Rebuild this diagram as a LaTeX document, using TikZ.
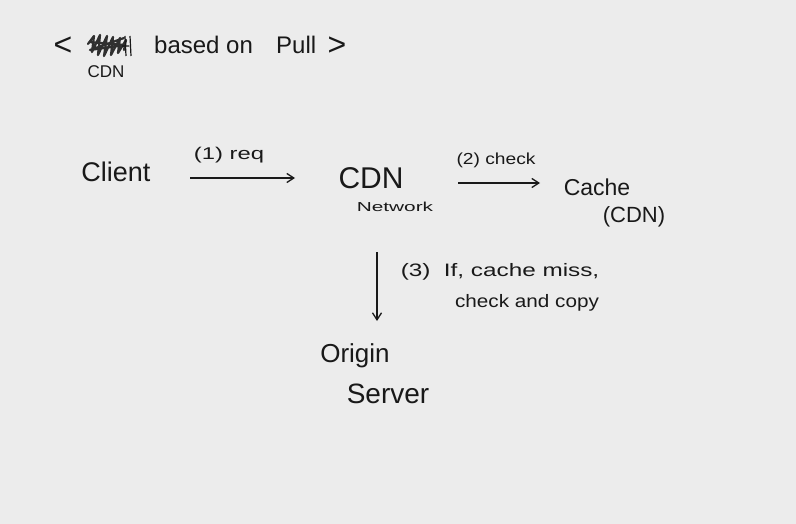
\documentclass[tikz,border=0pt]{standalone}
\usepackage{fontspec}
\setmainfont{Liberation Sans}
\usetikzlibrary{arrows.meta}
\definecolor{board}{RGB}{236,236,236}
\definecolor{ink}{RGB}{25,25,25}
\tikzset{
  big/.style={font=\fontsize{25}{28}\selectfont, text=ink, inner sep=0pt},
  small/.style={font=\fontsize{15}{17}\selectfont, text=ink, inner sep=0pt},
  arr/.style={draw=ink, line width=1.3pt, -{Straight Barb[length=7pt,width=9pt]}}
}
\begin{document}
\begin{tikzpicture}[x=1pt,y=-1pt]
\useasboundingbox (0,0) rectangle (796,524);
\fill[board] (0,0) rectangle (796,524);
% title
\node[big, font=\fontsize{32}{34}\selectfont] (lt) at (63,46) {<};
\draw[ink!90, line width=2.2pt, line join=round, line cap=round]
  (88,44) -- (94,36) -- (92,52) -- (100,35) -- (98,55) -- (107,36) -- (104,56) -- (113,37) -- (111,55) -- (120,38) -- (118,53) -- (126,40) -- (124,50)
  (89,42) -- (125,45) -- (90,50) -- (124,38);
\draw[ink, line width=1.2pt] (125,36) -- (126,56) (122,46) -- (129,46) (130,36) -- (131,56);
\node[small, font=\fontsize{17}{19}\selectfont] (cdnt) at (106,72) {CDN};
\node[big, font=\fontsize{24}{26}\selectfont, anchor=west] (title) at (154,45) {based on};
\node[big, font=\fontsize{24}{26}\selectfont, anchor=west] (pull) at (276,45) {Pull};
\node[big, font=\fontsize{32}{34}\selectfont] (gt) at (337,46) {>};
% nodes
\node[big, font=\fontsize{27}{30}\selectfont] (client) at (116,172) {Client};
\node[big, font=\fontsize{30}{32}\selectfont] (cdn) at (371,178) {CDN};
\node[small, font=\fontsize{13}{15}\selectfont, xscale=1.6] (net) at (395,207) {Network};
\node[big, font=\fontsize{23}{26}\selectfont] (cache) at (597,187) {Cache};
\node[big, font=\fontsize{22}{24}\selectfont] (cachecdn) at (634,217) {(CDN)};
\node[big, font=\fontsize{26}{28}\selectfont] (origin) at (355,356) {Origin};
\node[big, font=\fontsize{28}{30}\selectfont] (server) at (388,394) {Server};
% connector ends
\coordinate (a1s) at (190,178);
\coordinate (a1e) at (295,178);
\coordinate (a2s) at (458,183);
\coordinate (a2e) at (540,183);
\coordinate (a3s) at (377,252);
\coordinate (a3e) at (377,321);
% connectors
\draw[arr] (a1s) -- (a1e);
\draw[arr] (a2s) -- (a2e);
\draw[arr] (a3s) -- (a3e);
\node[small, font=\fontsize{17}{19}\selectfont, xscale=1.4] (l1) at (229,155) {(1) req};
\node[small, font=\fontsize{16}{18}\selectfont, xscale=1.2] (l2) at (496,160) {(2) check};
\node[small, font=\fontsize{18}{20}\selectfont, xscale=1.35] (l3a) at (500,272) {(3)\ \ If, cache miss,};
\node[small, font=\fontsize{18}{20}\selectfont, xscale=1.15] (l3b) at (527,303) {check and copy};
\end{tikzpicture}
\end{document}
